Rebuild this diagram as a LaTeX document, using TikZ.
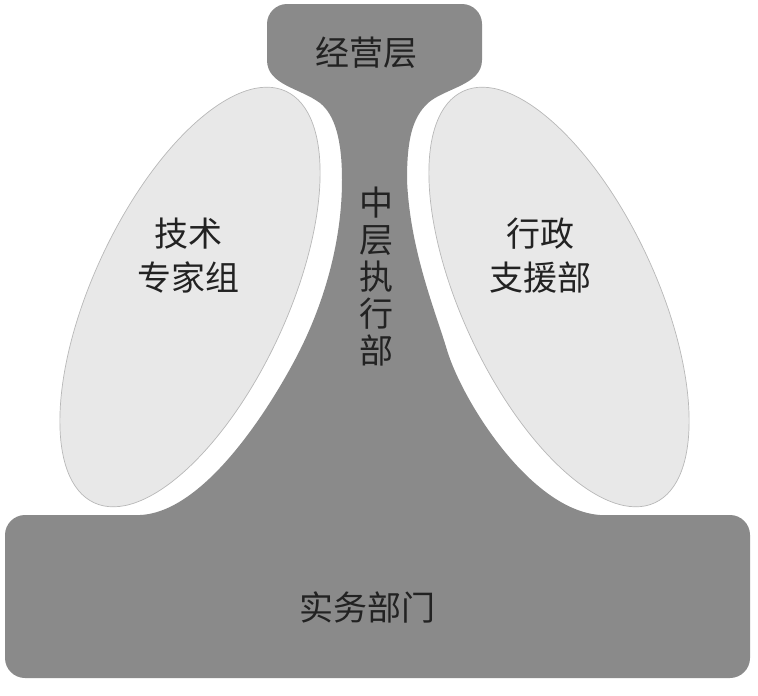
\documentclass[tikz,border=0pt]{standalone}
\usepackage{fontspec}
\newfontfamily\cjk{Noto Sans CJK SC}
\usetikzlibrary{shapes.geometric}
\definecolor{orggray}{HTML}{8A8A8A}
\definecolor{staffgray}{HTML}{E8E8E8}
\definecolor{inkgray}{HTML}{222222}

\begin{document}
\begin{tikzpicture}[x=1pt, y=-1pt,
    staff/.style={ellipse, inner sep=0pt, minimum width=454pt, minimum height=194pt, fill=staffgray, draw=black!28, line width=0.7pt},
    lbl/.style={text=inkgray, font=\cjk\fontsize{34}{44}\selectfont, align=center, inner sep=0pt},
    vlbl/.style={lbl, font=\cjk\fontsize{34}{37}\selectfont}]
  \useasboundingbox (0,0) rectangle (758,696);

  \fill[orggray] (5,535) .. controls (5,524) and (14,515) .. (25,515) -- (140,515)
     .. controls (210,512) and (280,390) .. (300,350) .. controls (325,300) and (342,240) .. (342,180)
     .. controls (342,140) and (335,115) .. (320,103) .. controls (300,88) and (267,85) .. (267,60)
     -- (267,24) .. controls (267,13) and (276,4) .. (287,4) -- (462,4) .. controls (473,4) and (482,13) .. (482,24) -- (482,60)
     .. controls (482,85) and (445,88) .. (428,103) .. controls (412,118) and (407,140) .. (407,180)
     .. controls (410,250) and (435,310) .. (447,350) .. controls (462,400) and (530,510) .. (600,515)
     -- (730,515) .. controls (741,515) and (750,524) .. (750,535) -- (750,658) .. controls (750,669) and (741,678) .. (730,678)
     -- (25,678) .. controls (14,678) and (5,669) .. (5,658) -- cycle;

  \node[staff, rotate=65] (tech) at (190,297) {};
  \node[staff, rotate=-65] (admin) at (559,297) {};

  \node[lbl] (toptxt) at (366,53) {经营层};
  \node[vlbl] (midtxt) at (376,277) {中\\层\\执\\行\\部};
  \node[lbl] (techtxt) at (188,256) {技术\\专家组};
  \node[lbl] (admintxt) at (540,256) {行政\\支援部};
  \node[lbl] (basetxt) at (367,607) {实务部门};
\end{tikzpicture}
\end{document}
